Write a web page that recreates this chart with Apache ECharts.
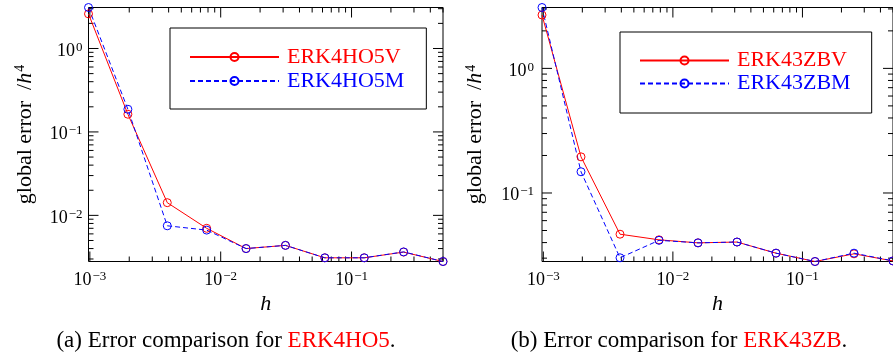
<!DOCTYPE html>
<html>
<head>
<meta charset="utf-8">
<script src="https://cdn.jsdelivr.net/npm/echarts@6/dist/echarts.min.js"></script>
<style>
  html, body { margin: 0; padding: 0; background: #fff; }
  #chart { width: 893px; height: 358px; }
</style>
</head>
<body>
<div id="chart"></div>
<script>
// step sizes h = 2^-10 ... 2^-1
const hValues = [0.0009765625, 0.001953125, 0.00390625, 0.0078125, 0.015625, 0.03125, 0.0625, 0.125, 0.25, 0.5]

// (a) ERK4HO5, global error / h^4
const erk4ho5V = [2.60, 0.163, 0.0142, 0.0070, 0.0040, 0.00437, 0.0031, 0.0031, 0.00363, 0.0028]
const erk4ho5M = [3.10, 0.187, 0.0075, 0.00666, 0.0040, 0.00437, 0.0031, 0.0031, 0.00365, 0.0028]

// (b) ERK43ZB
const erk43zbV = [2.68, 0.195, 0.0467, 0.0421, 0.0398, 0.0404, 0.0329, 0.0282, 0.0325, 0.0285]
const erk43zbM = [3.08, 0.148, 0.0302, 0.0417, 0.0398, 0.0404, 0.0329, 0.0282, 0.0329, 0.0285]

// labelled ticks
const xTickLabels = [1e-3, 1e-2, 1e-1]
const yTickLabelsA = [1e-2, 1e-1, 1e0]
const yTickLabelsB = [1e-1, 1e0]

const FONT = 'Liberation Serif'
const RED = '#ff0000'
const BLUE = '#0000ff'

const xMin = hValues[0]
const xMax = hValues[hValues.length - 1]
const yMinA = Math.min(...erk4ho5V, ...erk4ho5M)
const yMaxA = Math.max(...erk4ho5V, ...erk4ho5M)
const yMinB = Math.min(...erk43zbV, ...erk43zbM)
const yMaxB = Math.max(...erk43zbV, ...erk43zbM)

// plot boxes
const boxA = { left: 88.5, top: 7.5, width: 354.5, height: 254 }
const boxB = { left: 542, top: 7.5, width: 351, height: 254 }

const tickRich = {
  b: { fontFamily: FONT, fontSize: 18, color: '#000', verticalAlign: 'bottom' },
  s: { fontFamily: FONT, fontSize: 13, color: '#000', padding: [4, 0, 6, 1] },
}

function powLabel(list) {
  return function (v) {
    const hit = list.find(t => Math.abs(t - v) / t < 1e-6)
    if (hit === undefined) return ''
    const e = Math.round(Math.log10(hit))
    return '{b|10}{s|' + (e < 0 ? '\u2212' + -e : e) + '}'
  }
}

// inward frame ticks (10px at decades, 5px at 2..9) as short broken line segments,
// the pixel length converted into log units of each axis
function tickSegments(box, y0, y1) {
  const decX = box.width / (Math.log10(xMax) - Math.log10(xMin))
  const decY = box.height / (Math.log10(y1) - Math.log10(y0))
  const out = []
  for (let e = -4; e <= 1; e++) {
    for (let m = 1; m <= 9; m++) {
      const v = Number((m * Math.pow(10, e)).toPrecision(6))
      const len = m === 1 ? 10 : 5
      const fy = Math.pow(10, len / decY)
      const fx = Math.pow(10, len / decX)
      if (v >= xMin && v <= xMax) {
        out.push([v, y0], [v, y0 * fy], ['-', '-'])
        out.push([v, y1], [v, y1 / fy], ['-', '-'])
      }
      if (v >= y0 && v <= y1) {
        out.push([xMin, v], [xMin * fx, v], ['-', '-'])
        out.push([xMax, v], [xMax / fx, v], ['-', '-'])
      }
    }
  }
  return out
}

function tickSeries(gi, box, lo, hi) {
  return {
    name: 'frame ticks ' + gi,
    type: 'line',
    xAxisIndex: gi,
    yAxisIndex: gi,
    data: tickSegments(box, lo, hi),
    symbol: 'none',
    connectNulls: false,
    clip: false,
    silent: true,
    z: 1,
    lineStyle: { color: '#000', width: 1 },
    emphasis: { disabled: true },
  }
}

function xAxisOpt(gi) {
  return {
    type: 'log',
    gridIndex: gi,
    min: xMin,
    max: xMax,
    axisLine: { show: false },
    axisTick: { show: false },
    splitLine: { show: false },
    axisLabel: { margin: 5, formatter: powLabel(xTickLabels), rich: tickRich },
    name: 'h',
    nameLocation: 'middle',
    nameGap: 32,
    nameMoveOverlap: false,
    nameTextStyle: { fontFamily: FONT, fontSize: 22, fontStyle: 'italic', color: '#000' },
  }
}

function yAxisOpt(gi, lo, hi, labels, margin, gap) {
  return {
    type: 'log',
    gridIndex: gi,
    min: lo,
    max: hi,
    axisLine: { show: false },
    axisTick: { show: false },
    splitLine: { show: false },
    axisLabel: { margin: margin, formatter: powLabel(labels), rich: tickRich },
    name: 'global error  /{i|h}{s|4}',
    nameLocation: 'middle',
    nameRotate: 90,
    nameGap: gap,
    nameMoveOverlap: false,
    nameTextStyle: {
      fontFamily: FONT, fontSize: 22, color: '#000',
      rich: {
        i: { fontFamily: FONT, fontSize: 22, fontStyle: 'italic', color: '#000' },
        s: { fontFamily: FONT, fontSize: 14, color: '#000', padding: [0, 0, 9, 1] },
      },
    },
  }
}

function lineSeries(name, values, color, dashed, gi) {
  return {
    name: name,
    type: 'line',
    xAxisIndex: gi,
    yAxisIndex: gi,
    data: hValues.map((h, i) => [h, values[i]]),
    symbol: 'circle',
    symbolSize: 8,
    clip: false,
    lineStyle: { color: color, width: 1, type: dashed ? [5, 3] : 'solid' },
    itemStyle: { color: 'rgba(255,255,255,0)', borderColor: color, borderWidth: 1 },
    emphasis: { disabled: true },
  }
}

function legendOpt(left, top, padding, lineHeight, names) {
  return {
    orient: 'vertical',
    left: left,
    top: top,
    padding: padding,
    itemGap: 0,
    itemWidth: 89,
    itemHeight: 10,
    borderColor: '#000',
    borderWidth: 1,
    borderRadius: 0,
    backgroundColor: '#fff',
    selectedMode: false,
    textStyle: { fontFamily: FONT, fontSize: 22, lineHeight: lineHeight, padding: [0, 0, 0, 3] },
    data: [
      { name: names[0], textStyle: { color: RED } },
      { name: names[1], textStyle: { color: BLUE } },
    ],
  }
}

function captionOpt(text, center) {
  return {
    text: text,
    left: center,
    top: 329,
    textAlign: 'center',
    padding: 0,
    textStyle: {
      fontFamily: FONT, fontSize: 23, fontWeight: 'normal', color: '#000',
      rich: { r: { fontFamily: FONT, fontSize: 23, color: RED } },
    },
  }
}

function gridOpt(box) {
  return Object.assign({ show: true, borderColor: '#000', borderWidth: 1, outerBoundsMode: 'none' }, box)
}

const chart = echarts.init(document.getElementById('chart'))
chart.setOption({
  animation: false,
  title: [
    captionOpt('(a) Error comparison for {r|ERK4HO5}.', 226),
    captionOpt('(b) Error comparison for {r|ERK43ZB}.', 679),
  ],
  grid: [gridOpt(boxA), gridOpt(boxB)],
  xAxis: [xAxisOpt(0), xAxisOpt(1)],
  yAxis: [
    yAxisOpt(0, yMinA, yMaxA, yTickLabelsA, 6, 52),
    yAxisOpt(1, yMinB, yMaxB, yTickLabelsB, 8, 55),
  ],
  legend: [
    legendOpt(170, 28, [17, 22, 16, 19], 24, ['ERK4HO5V', 'ERK4HO5M']),
    legendOpt(620, 32, [17, 21, 18, 19], 23, ['ERK43ZBV', 'ERK43ZBM']),
  ],
  series: [
    tickSeries(0, boxA, yMinA, yMaxA),
    tickSeries(1, boxB, yMinB, yMaxB),
    lineSeries('ERK4HO5V', erk4ho5V, RED, false, 0),
    lineSeries('ERK4HO5M', erk4ho5M, BLUE, true, 0),
    lineSeries('ERK43ZBV', erk43zbV, RED, false, 1),
    lineSeries('ERK43ZBM', erk43zbM, BLUE, true, 1),
  ],
})
</script>
</body>
</html>
